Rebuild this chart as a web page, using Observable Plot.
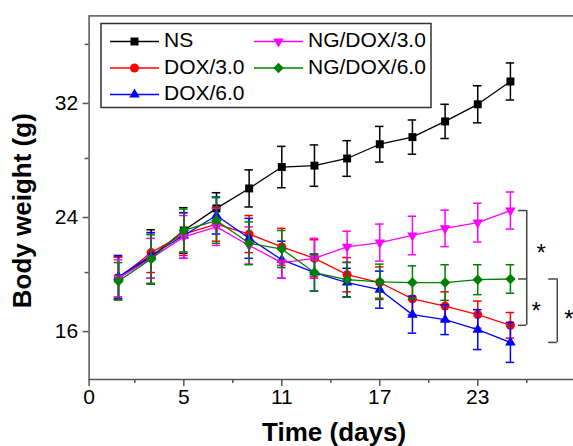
<!DOCTYPE html>
<html><head><meta charset="utf-8">
<script src="https://cdn.jsdelivr.net/npm/d3@7"></script>
<script src="https://cdn.jsdelivr.net/npm/@observablehq/plot@0.6"></script>
<style>
html,body{margin:0;padding:0;overflow:hidden;background:#fff;}
#wrap{width:573px;height:446px;overflow:hidden;position:relative;}
</style></head><body><div id="wrap"></div>
<script>
// ---- data ----
const days = [1, 3, 5, 7, 9, 11, 13, 15, 17, 19, 21, 23, 25];
const seriesNames = ["NS", "DOX/3.0", "DOX/6.0", "NG/DOX/3.0", "NG/DOX/6.0"];
const nsMean     = [19.6, 21.1, 22.95, 24.5, 25.9, 27.4, 27.5, 28.0, 29.0, 29.5, 30.6, 31.8, 33.4];
const nsErr      = [1.5, 1.9, 1.6, 1.1, 1.3, 1.45, 1.45, 1.25, 1.25, 1.2, 1.2, 1.3, 1.3];
const dox3Mean   = [19.6, 21.4, 22.7, 23.4, 22.7, 21.8, 21.0, 19.85, 19.3, 18.15, 17.65, 17.05, 16.3];
const dox3Err    = [1.5, 1.4, 1.5, 1.2, 1.3, 1.3, 1.3, 1.2, 1.1, 1.1, 1.0, 0.95, 0.9];
const dox6Mean   = [19.7, 21.2, 22.6, 24.0, 22.4, 20.9, 20.0, 19.3, 18.8, 17.05, 16.7, 16.0, 15.1];
const dox6Err    = [1.5, 1.6, 1.6, 1.3, 1.4, 1.3, 1.3, 1.0, 1.3, 1.3, 1.05, 1.4, 1.4];
const ngdox3Mean = [19.6, 21.0, 22.5, 23.2, 21.9, 20.7, 21.0, 21.8, 22.1, 22.6, 23.1, 23.5, 24.35];
const ngdox3Err  = [1.3, 1.4, 1.5, 1.3, 1.3, 1.1, 1.4, 1.1, 1.3, 1.35, 1.28, 1.36, 1.3];
const ngdox6Mean = [19.4, 20.95, 22.95, 23.65, 22.05, 21.65, 20.0, 19.5, 19.35, 19.3, 19.3, 19.5, 19.55];
const ngdox6Err  = [1.3, 1.7, 1.5, 1.6, 1.5, 1.3, 1.3, 1.23, 1.24, 1.17, 1.25, 1.05, 1.0];

const xTicks = [-0.8, 5, 11, 17, 23];
const xTickLabels = ["0", "5", "11", "17", "23"];
const xMinorTicks = [2, 8, 14, 20, 26];
const yTicks = [16, 24, 32];
const yMinorTicks = [20, 28, 36];
const xDomain = [-0.8, 29.2];
const yDomain = [12.5, 38];
const bracket1X = 26.0, bracket1TickX = 25.5;
const bracket2X = 27.87, bracket2TickX = 27.35;
const star1X = 26.89, star2X = 26.58, star3X = 28.58;

// ---- symbols ----
const triangleDown = {
  draw(ctx, size) {
    const s3 = Math.sqrt(3);
    const y = -Math.sqrt(size / (s3 * 3));
    ctx.moveTo(0, -y * 2);
    ctx.lineTo(-s3 * y, y);
    ctx.lineTo(s3 * y, y);
    ctx.closePath();
  }
};
const diamondSym = {
  draw(ctx, size) {
    const h = Math.sqrt(size / 2);
    ctx.moveTo(0, -h); ctx.lineTo(h, 0); ctx.lineTo(0, h); ctx.lineTo(-h, 0); ctx.closePath();
  }
};

const FONT = "'Liberation Sans', Arial, Helvetica, sans-serif";
const series = [
  {name: seriesNames[0], color: "#000000", symbol: d3.symbolSquare, r: 4.5, mean: nsMean, err: nsErr},
  {name: seriesNames[1], color: "#ff0000", symbol: d3.symbolCircle, r: 4.5, mean: dox3Mean, err: dox3Err},
  {name: seriesNames[2], color: "#0000ff", symbol: d3.symbolTriangle, r: 3.9, mean: dox6Mean, err: dox6Err},
  {name: seriesNames[3], color: "#ff00ff", symbol: triangleDown, r: 3.9, mean: ngdox3Mean, err: ngdox3Err},
  {name: seriesNames[4], color: "#008000", symbol: diamondSym, r: 4.2, mean: ngdox6Mean, err: ngdox6Err}
];
const rowsOf = s => days.map((d, i) => ({series: s.name, day: d, mean: s.mean[i], err: s.err[i]}));
const capHalf = 0.26;

const marks = [];
for (const s of series) {
  const rows = rowsOf(s);
  marks.push(Plot.line(rows, {x: "day", y: "mean", stroke: s.color, strokeWidth: 1.3}));
  marks.push(Plot.ruleX(rows, {x: "day", y1: d => d.mean - d.err, y2: d => d.mean + d.err, stroke: s.color, strokeWidth: 1.5}));
  marks.push(Plot.ruleY(rows, {y: d => d.mean + d.err, x1: d => d.day - capHalf, x2: d => d.day + capHalf, stroke: s.color, strokeWidth: 1.5}));
  marks.push(Plot.ruleY(rows, {y: d => d.mean - d.err, x1: d => d.day - capHalf, x2: d => d.day + capHalf, stroke: s.color, strokeWidth: 1.5}));
  marks.push(Plot.dot(rows, {x: "day", y: "mean", symbol: s.symbol, r: s.r, fill: s.color, stroke: "none"}));
}

// significance brackets (from last values)
const last = a => a[a.length - 1];
const magLast = last(ngdox3Mean), grnLast = last(ngdox6Mean), redLast = last(dox3Mean), bluLast = last(dox6Mean);
const BR = "#444";
marks.push(Plot.ruleX([{x: bracket1X, y1: magLast, y2: redLast}], {x: "x", y1: "y1", y2: "y2", stroke: BR, strokeWidth: 1.5}));
marks.push(Plot.ruleY([magLast, grnLast, redLast], {y: d => d, x1: bracket1TickX, x2: bracket1X, stroke: BR, strokeWidth: 1.5}));
marks.push(Plot.ruleX([{x: bracket2X, y1: grnLast, y2: bluLast}], {x: "x", y1: "y1", y2: "y2", stroke: BR, strokeWidth: 1.5}));
marks.push(Plot.ruleY([grnLast, bluLast], {y: d => d, x1: bracket2TickX, x2: bracket2X, stroke: BR, strokeWidth: 1.5}));
marks.push(Plot.text([
  {x: star1X, y: (magLast + grnLast) / 2},
  {x: star2X, y: (grnLast + redLast) / 2},
  {x: star3X, y: (grnLast + bluLast) / 2}
], {x: "x", y: "y", text: () => "*", fontSize: 24, dy: 9, fill: "black", fontFamily: FONT}));

// axes
marks.push(Plot.frame({stroke: "#555", strokeWidth: 1.5}));
marks.push(Plot.axisX({ticks: xTicks, tickFormat: d => xTickLabels[xTicks.indexOf(d)], tickSize: 7, tickPadding: 3, fontSize: 21, stroke: "#555", fill: "black", strokeWidth: 1.5, label: null}));
marks.push(Plot.axisX({ticks: xMinorTicks, tickFormat: () => "", tickSize: 4, stroke: "#555", strokeWidth: 1.5, label: null}));
marks.push(Plot.axisY({ticks: yTicks, tickSize: 6, tickPadding: 5, fontSize: 21, stroke: "#555", fill: "black", strokeWidth: 1.5, dy: 2, label: null}));
marks.push(Plot.axisY({ticks: yMinorTicks, tickFormat: () => "", tickSize: 4, stroke: "#555", strokeWidth: 1.5, label: null}));
marks.push(Plot.text(["Time (days)"], {text: d => d, frameAnchor: "bottom", lineAnchor: "middle", textAnchor: "middle", dy: 53, fontSize: 26, fontWeight: "bold", fill: "black", fontFamily: FONT}));
marks.push(Plot.text(["Body weight (g)"], {text: d => d, frameAnchor: "left", lineAnchor: "middle", textAnchor: "middle", rotate: -90, dx: -66, dy: 13, fontSize: 26, fontWeight: "bold", fill: "black", fontFamily: FONT}));

const chart = Plot.plot({
  width: 580, height: 446,
  marginLeft: 88.6, marginRight: 1.5, marginTop: 15.4, marginBottom: 67,
  x: {domain: xDomain},
  y: {domain: yDomain},
  style: {fontFamily: FONT, background: "white", maxWidth: "none", overflow: "visible"},
  marks
});
chart.style.maxWidth = "none";
chart.style.width = "580px";
chart.style.height = "446px";
document.getElementById("wrap").appendChild(chart);

// legend
const svg = d3.select(chart);
const lg = svg.append("g").attr("font-family", FONT).attr("font-size", 21).attr("fill", "black").attr("text-anchor", "start");
lg.append("rect").attr("x", 101).attr("y", 23.5).attr("width", 330).attr("height", 84)
  .attr("fill", "white").attr("stroke", "#333").attr("stroke-width", 1.5);
const colX = [110, 254], rowY = [41.5, 68, 94.5];
series.forEach((s, i) => {
  const col = i < 3 ? 0 : 1, row = i < 3 ? i : i - 3;
  const x0 = colX[col], y0 = rowY[row];
  lg.append("line").attr("x1", x0).attr("x2", x0 + 49).attr("y1", y0).attr("y2", y0).attr("stroke", s.color).attr("stroke-width", 1.3);
  lg.append("path").attr("d", d3.symbol(s.symbol, Math.PI * s.r * s.r)()).attr("transform", `translate(${x0 + 24.5},${y0})`).attr("fill", s.color);
  lg.append("text").attr("x", x0 + 54).attr("y", y0 - 1.5).attr("dy", "0.35em").attr("text-anchor", "start").text(s.name);
});
</script></body></html>
